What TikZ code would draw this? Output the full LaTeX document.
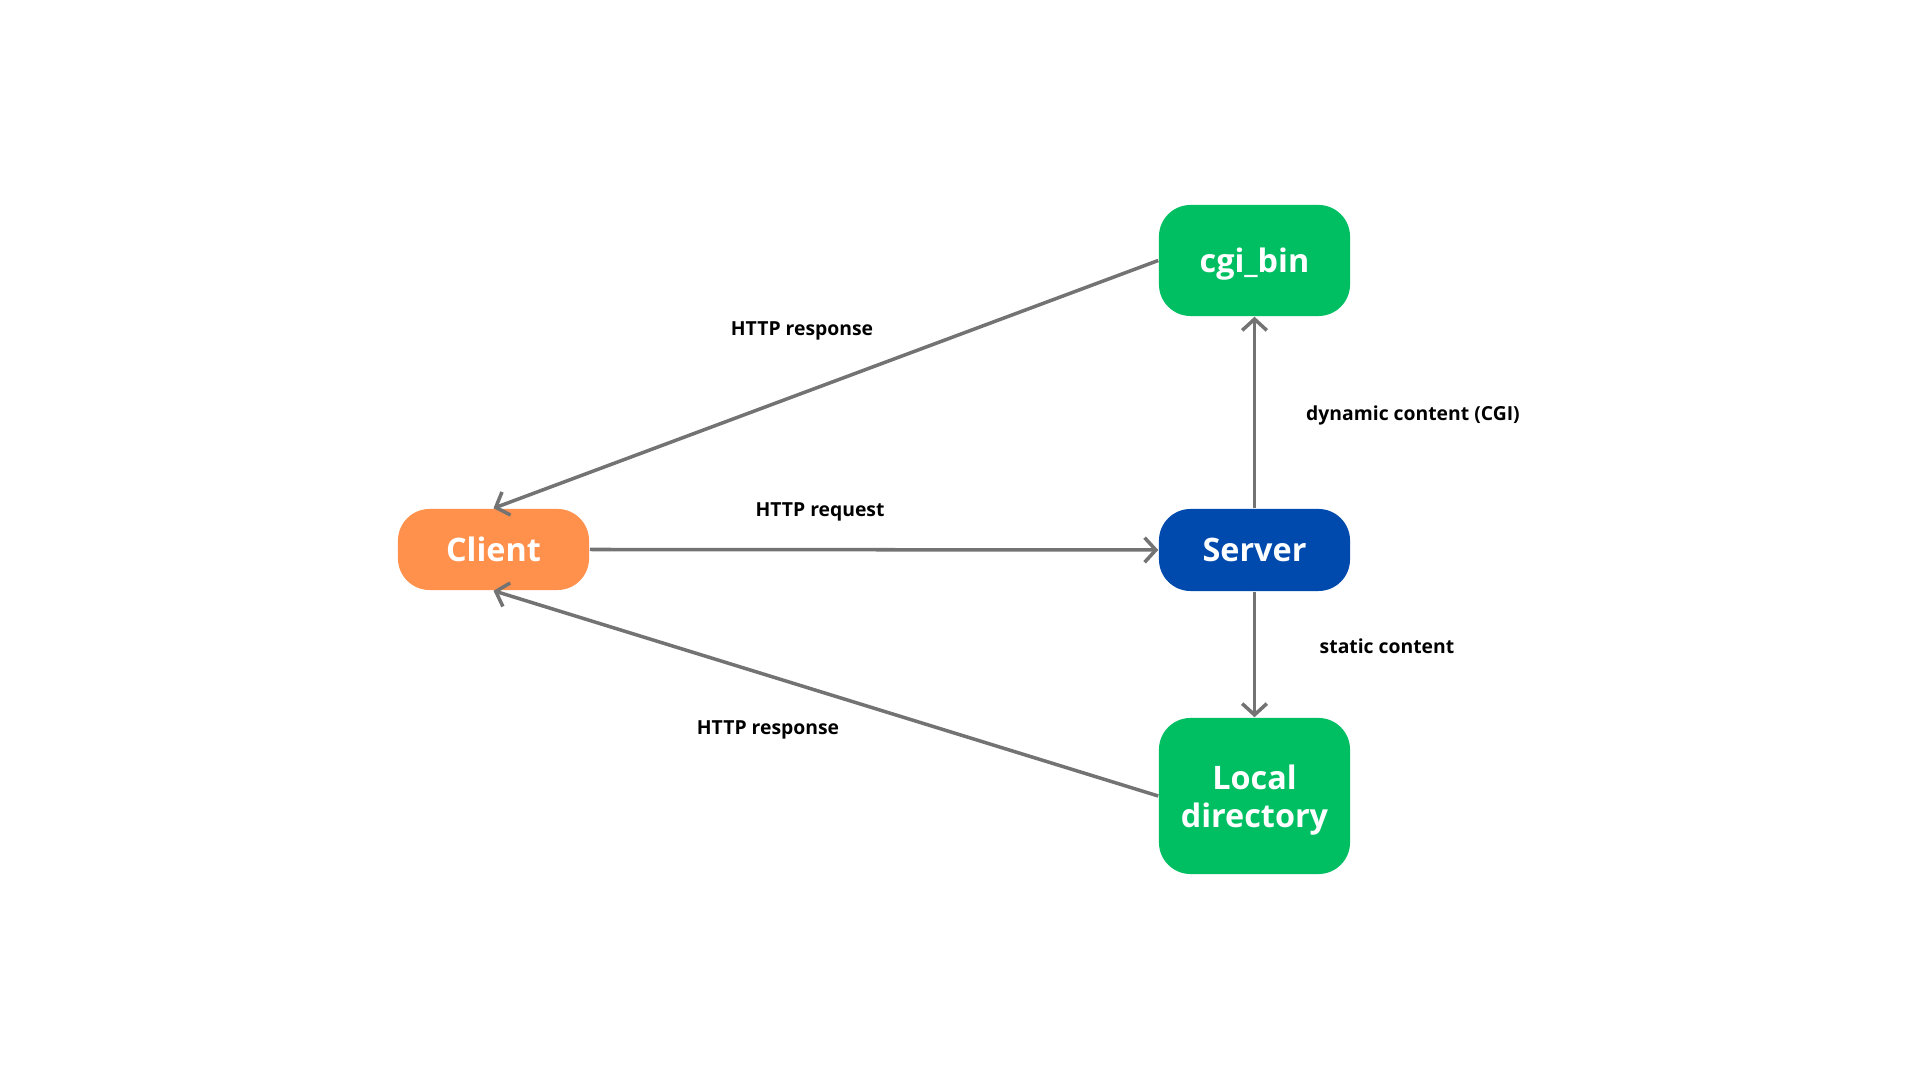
\documentclass[tikz,border=0pt]{standalone}
\usepackage{fontspec}
\setmainfont{Open Sans}
\usetikzlibrary{arrows.meta}
\definecolor{clientorange}{HTML}{FF914D}
\definecolor{servblue}{HTML}{004AAD}
\definecolor{dirgreen}{HTML}{00BF63}
\definecolor{flowgray}{HTML}{737373}
\tikzset{
  box/.style={rounded corners=9pt, minimum width=1.91cm, text=white, align=center,
    font=\fontsize{9.2}{10.8}\selectfont\bfseries, inner sep=0pt, text depth=0pt},
  flow/.style={draw=flowgray, line width=1pt, -{Straight Barb[length=3.2pt,width=7pt,line width=1pt]}},
  lbl/.style={font=\fontsize{5.5}{7}\selectfont\bfseries, text=black, inner sep=0pt}
}
\begin{document}
\begin{tikzpicture}[x=0.01cm,y=-0.01cm]
                \useasboundingbox (0,0) rectangle (1920,1080);
                \node [box, fill=clientorange, minimum height=0.81cm] (client) at (493.5,549.5) {Client};
                \node [box, fill=servblue, minimum height=0.82cm] (server) at (1254.5,550) {Server};
                \node [box, fill=dirgreen, minimum height=1.11cm] (cgi) at (1254.5,260.5) {cgi\_bin};
                \node [box, fill=dirgreen, minimum height=1.56cm] (localdir) at (1254.5,796) {Local\\directory};
                \draw [flow](client.east)--(server.west);
                \draw [flow](cgi.west)--(client.north);
                \draw [flow](localdir.west)--(client.south);
                \draw [flow](server.north)--(cgi.south);
                \draw [flow](server.south)--(localdir.north);
                \node [lbl] (resptop) at (802,331) {HTTP response};
                \node [lbl] (req) at (820,512) {HTTP request};
                \node [lbl] (respbot) at (768,730) {HTTP response};
                \node [lbl] (dyn) at (1413,415) {dynamic content (CGI)};
                \node [lbl] (stat) at (1387,646) {static content};
            \end{tikzpicture}
\end{document}
